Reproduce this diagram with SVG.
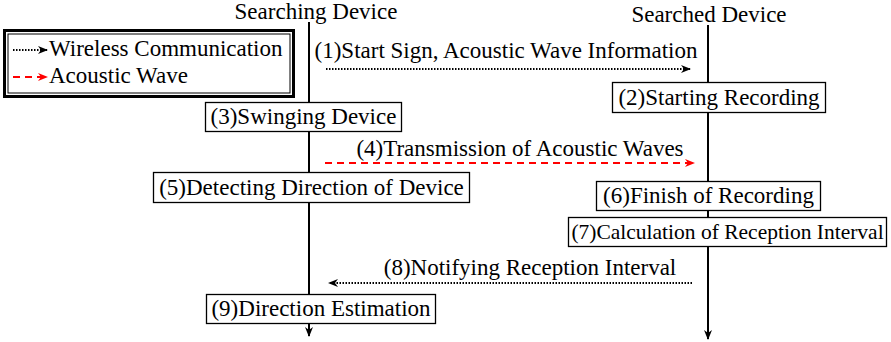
<svg xmlns="http://www.w3.org/2000/svg" width="891" height="342" viewBox="0 0 891 342" font-family="Liberation Serif, serif">
<style>
text{font-family:"Liberation Serif","Times New Roman",serif;font-size:23px;fill:#000}
.box{fill:#fff;stroke:#000;stroke-width:1.3}
.life{stroke:#000;stroke-width:2;fill:none}
.wl{stroke:#000;stroke-width:2;stroke-dasharray:1.5 1.5;fill:none}
.ac{stroke:#f00;stroke-width:2;stroke-dasharray:7 5;fill:none}
</style>
<defs>
<marker id="ab" viewBox="0 0 10 10" refX="9" refY="5" markerWidth="10" markerHeight="10" markerUnits="userSpaceOnUse" orient="auto"><path d="M0,1 L10,5 L0,9 L3,5 Z" fill="#000"/></marker>
<marker id="ar" viewBox="0 0 10 10" refX="9" refY="5" markerWidth="10" markerHeight="10" markerUnits="userSpaceOnUse" orient="auto"><path d="M0,1 L10,5 L0,9 L3,5 Z" fill="#f00"/></marker>
</defs>
<g id="legend">
<rect x="4.5" y="30.5" width="289" height="66" fill="#fff" stroke="#000" stroke-width="3"/>
<rect x="8" y="34" width="282" height="59" fill="none" stroke="#000" stroke-width="1"/>
<line class="wl" x1="13" y1="50" x2="47" y2="50" marker-end="url(#ab)"/>
<line class="ac" x1="13" y1="77" x2="47" y2="77" marker-end="url(#ar)"/>
<text x="49" y="56">Wireless Communication</text>
<text x="49" y="83">Acoustic Wave</text>
</g>
<g id="lifelines">
<text x="316" y="19" text-anchor="middle">Searching Device</text>
<text x="709" y="22" text-anchor="middle">Searched Device</text>
<line class="life" x1="309" y1="22" x2="309" y2="336" marker-end="url(#ab)"/>
<line class="life" x1="708" y1="25" x2="708" y2="339" marker-end="url(#ab)"/>
</g>
<g id="connectors">
<line class="wl" x1="326" y1="69" x2="690" y2="69" marker-end="url(#ab)"/>
<text x="506" y="58" text-anchor="middle">(1)Start Sign, Acoustic Wave Information</text>
<line class="ac" x1="325" y1="163" x2="694" y2="163" marker-end="url(#ar)"/>
<text x="520" y="156" text-anchor="middle">(4)Transmission of Acoustic Waves</text>
<line class="wl" x1="692" y1="283" x2="329" y2="283" marker-end="url(#ab)"/>
<text x="530" y="275" text-anchor="middle">(8)Notifying Reception Interval</text>
</g>
<g id="n2"><rect class="box" x="612.5" y="82.5" width="213" height="30"/><text x="719" y="105" text-anchor="middle">(2)Starting Recording</text></g>
<g id="n3"><rect class="box" x="205.5" y="102.5" width="196" height="29"/><text x="303.5" y="124" text-anchor="middle">(3)Swinging Device</text></g>
<g id="n5"><rect class="box" x="153.5" y="172.5" width="316" height="30"/><text x="311.5" y="195" text-anchor="middle">(5)Detecting Direction of Device</text></g>
<g id="n6"><rect class="box" x="596.5" y="181.5" width="224" height="29"/><text x="708.5" y="203" text-anchor="middle">(6)Finish of Recording</text></g>
<g id="n7"><rect class="box" x="568.5" y="217.5" width="318" height="29"/><text x="727.5" y="239" text-anchor="middle" style="font-size:21.5px">(7)Calculation of Reception Interval</text></g>
<g id="n9"><rect class="box" x="206.5" y="294.5" width="229" height="29"/><text x="321" y="316" text-anchor="middle">(9)Direction Estimation</text></g>
</svg>
